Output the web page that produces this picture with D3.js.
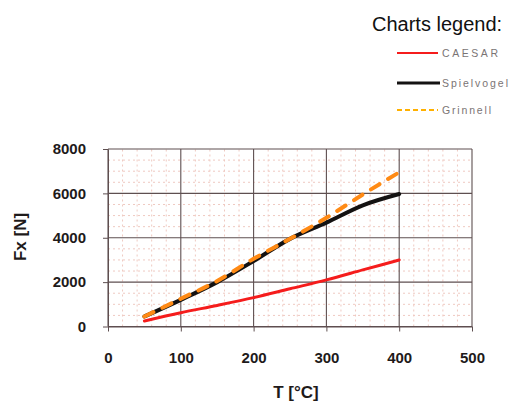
<!DOCTYPE html>
<html>
<head>
<meta charset="utf-8">
<script src="https://cdn.jsdelivr.net/npm/d3@7/dist/d3.min.js"></script>
<style>
  html, body { margin: 0; padding: 0; background: #fff; }
  svg { display: block; }
</style>
</head>
<body>
<svg id="chart" width="516" height="403"></svg>
<script>
// Temperature points (°C) shared by all three series
const temps = [50, 100, 150, 200, 250, 300, 350, 400];

// Force Fx [N] for each model
const caesar     = [250, 620, 950, 1300, 1700, 2100, 2550, 3000];
const spielvogel = [450, 1200, 2000, 2950, 3950, 4680, 5460, 5970];
const grinnell   = [450, 1250, 2050, 3050, 3950, 4900, 5950, 6950];

// Axis ticks
const xTicks = [0, 100, 200, 300, 400, 500];
const yTicks = [0, 2000, 4000, 6000, 8000];

// Legend labels
const seriesNames = ["CAESAR", "Spielvogel", "Grinnell"];

const svg = d3.select("#chart");
const font = "'Liberation Sans', Arial, sans-serif";

const x = d3.scaleLinear().domain([0, 500]).range([108, 472]);
const y = d3.scaleLinear().domain([0, 8000]).range([326.5, 149]);

// Minor grid
const grid = svg.append("g");
grid.selectAll("line.mx")
  .data(d3.range(0, 501, 20).filter(v => v % 100 !== 0))
  .join("line")
  .attr("x1", d => x(d)).attr("x2", d => x(d))
  .attr("y1", y(0)).attr("y2", y(8000))
  .attr("stroke", "#efc9c1").attr("stroke-width", 1)
  .attr("stroke-dasharray", "2,3");
grid.selectAll("line.my")
  .data(d3.range(0, 8001, 500).filter(v => v % 2000 !== 0))
  .join("line")
  .attr("x1", x(0)).attr("x2", x(500))
  .attr("y1", d => y(d)).attr("y2", d => y(d))
  .attr("stroke", "#efc9c1").attr("stroke-width", 1)
  .attr("stroke-dasharray", "2,3");

// Major grid
grid.selectAll("line.Mx")
  .data(xTicks)
  .join("line")
  .attr("x1", d => x(d)).attr("x2", d => x(d))
  .attr("y1", y(0)).attr("y2", y(8000))
  .attr("stroke", "#5e4f50").attr("stroke-width", 1.1);
grid.selectAll("line.My")
  .data(yTicks)
  .join("line")
  .attr("x1", x(0)).attr("x2", x(500))
  .attr("y1", d => y(d)).attr("y2", d => y(d))
  .attr("stroke", "#5e4f50").attr("stroke-width", 1.1);

// Axes
const xAxis = svg.append("g")
  .attr("transform", `translate(0,${y(0)})`)
  .call(d3.axisBottom(x).tickValues(xTicks).tickFormat(d3.format("d"))
    .tickSizeInner(5).tickSizeOuter(0).tickPadding(21));
const yAxis = svg.append("g")
  .attr("transform", `translate(${x(0)},0)`)
  .call(d3.axisLeft(y).tickValues(yTicks).tickFormat(d3.format("d"))
    .tickSizeInner(5).tickSizeOuter(0).tickPadding(17));

[xAxis, yAxis].forEach(a => {
  a.select(".domain").attr("stroke", "#5e4f50");
  a.selectAll(".tick line").attr("stroke", "#5e4f50");
  a.selectAll(".tick text")
    .attr("fill", "#1e1a1a")
    .style("font-family", font)
    .style("font-size", "15px")
    .style("font-weight", "bold");
});

// Axis titles
svg.append("text")
  .attr("x", 296).attr("y", 398)
  .attr("text-anchor", "middle")
  .style("font-family", font).style("font-size", "17px").style("font-weight", "bold")
  .attr("fill", "#1e1a1a")
  .text("T [°C]");
svg.append("text")
  .attr("transform", "translate(26,237) rotate(-90)")
  .attr("text-anchor", "middle")
  .style("font-family", font).style("font-size", "17px").style("font-weight", "bold")
  .attr("fill", "#1e1a1a")
  .text("Fx [N]");

// Series lines (smoothed)
const line = d3.line()
  .x((d, i) => x(temps[i]))
  .y(d => y(d))
  .curve(d3.curveMonotoneX);

svg.append("path").datum(caesar)
  .attr("d", line).attr("fill", "none")
  .attr("stroke", "#f51c1c").attr("stroke-width", 3)
  .attr("stroke-linecap", "round");
svg.append("path").datum(spielvogel)
  .attr("d", line).attr("fill", "none")
  .attr("stroke", "#141212").attr("stroke-width", 4)
  .attr("stroke-linecap", "round");
svg.append("path").datum(grinnell)
  .attr("d", line).attr("fill", "none")
  .attr("stroke", "#ff8a14").attr("stroke-width", 4)
  .attr("stroke-linecap", "round")
  .attr("stroke-dasharray", "10,10");

// Legend
svg.append("text")
  .attr("x", 372).attr("y", 31)
  .style("font-family", font).style("font-size", "20px")
  .attr("fill", "#111")
  .text("Charts legend:");

const legendItems = [
  { name: seriesNames[0], color: "#f51c1c", width: 2.2, dash: null,  y: 53,  x2: 438, tl: 56 },
  { name: seriesNames[1], color: "#141212", width: 3,   dash: null,  y: 83,  x2: 440, tl: 66 },
  { name: seriesNames[2], color: "#ffb000", width: 2,   dash: "5,3", y: 110, x2: 438, tl: 49 }
];
const lg = svg.append("g");
legendItems.forEach(it => {
  lg.append("line")
    .attr("x1", 397).attr("x2", it.x2)
    .attr("y1", it.y).attr("y2", it.y)
    .attr("stroke", it.color).attr("stroke-width", it.width)
    .attr("stroke-dasharray", it.dash);
  lg.append("text")
    .attr("x", 442).attr("y", it.y + 4)
    .attr("textLength", it.tl).attr("lengthAdjust", "spacing")
    .style("font-family", font).style("font-size", "10.5px")
    .attr("fill", "#7a7474")
    .text(it.name);
});
</script>
</body>
</html>
